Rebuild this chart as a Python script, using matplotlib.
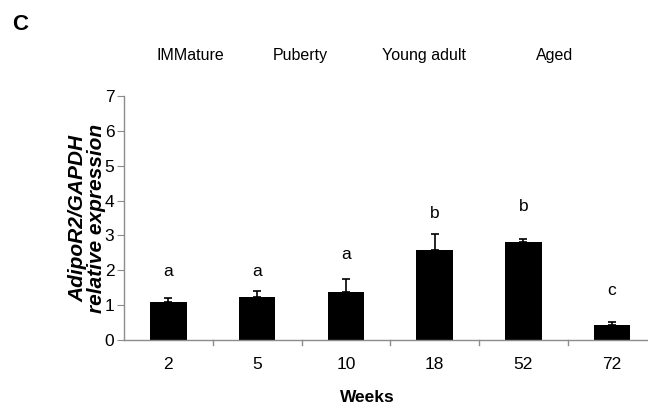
import matplotlib.pyplot as plt

weeks = ['2', '5', '10', '18', '52', '72']
expression = [1.10, 1.22, 1.38, 2.57, 2.80, 0.42]
sem = [0.10, 0.18, 0.36, 0.46, 0.11, 0.09]
groups = ['a', 'a', 'a', 'b', 'b', 'c']
group_y = [1.96, 1.96, 2.44, 3.64, 3.84, 1.41]
stages = ['IMMature', 'Puberty', 'Young adult', 'Aged']
stage_x = [190, 300, 424, 555]

plt.rcParams['font.family'] = ['Liberation Sans', 'DejaVu Sans']
axis_grey = '#8c8c8c'

fig = plt.figure(figsize=(6.48, 4.05), dpi=100)
ax = fig.add_axes([124 / 648, 65 / 405, 532.5 / 648, 244 / 405])

pos = range(len(weeks))
ax.bar(pos, expression, width=0.41, color='black', zorder=2)
ax.errorbar(pos, expression, yerr=[[0] * len(sem), sem], fmt='none',
            ecolor='black', elinewidth=1.2, capsize=3, capthick=1.2, zorder=3)
for i, g in enumerate(groups):
    ax.text(i, group_y[i], g, ha='center', va='center', fontsize=12.5)

ax.set_xlim(-0.5, len(weeks) - 0.5)
ax.set_ylim(0, 7)
ax.set_yticks(range(8))
ax.tick_params(axis='y', direction='out', length=5, color=axis_grey, labelsize=12.5, pad=2)

# category labels centred under bars, tick marks between categories
ax.set_xticks(list(pos))
ax.set_xticklabels(weeks, fontsize=12.5)
ax.tick_params(axis='x', length=0, pad=12)
for x in [i + 0.5 for i in range(len(weeks) - 1)]:
    ax.plot([x, x], [0, -0.13], color=axis_grey, lw=1, clip_on=False)

for side in ['top', 'right']:
    ax.spines[side].set_visible(False)
for side in ['left', 'bottom']:
    ax.spines[side].set_color(axis_grey)
    ax.spines[side].set_linewidth(1)

fig.text(87 / 648, 1 - 218 / 405, 'AdipoR2/GAPDH\nrelative expression', rotation=90,
         ha='center', va='center', fontsize=15, fontweight='bold', fontstyle='italic',
         linespacing=0.95)
fig.text(367 / 648, 1 - 397 / 405, 'Weeks', ha='center', va='center',
         fontsize=12.5, fontweight='bold')

for s, x in zip(stages, stage_x):
    fig.text(x / 648, 1 - 60 / 405, s, ha='center', va='baseline', fontsize=11.5)
fig.text(12 / 648, 1 - 25 / 405, 'C', ha='left', va='center', fontsize=16, fontweight='bold')

fig.savefig('out.png', dpi=100)
